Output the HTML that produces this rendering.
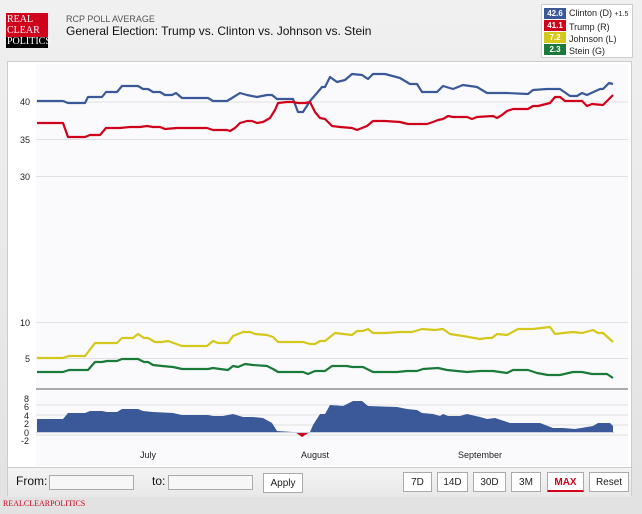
<!DOCTYPE html>
<html><head><meta charset="utf-8"><style>
body{margin:0;width:642px;height:514px;overflow:hidden;background:linear-gradient(#f0f0f0,#e2e2e2);font-family:"Liberation Sans",sans-serif;position:relative}
.a{position:absolute}
.btn{position:absolute;top:472px;height:20px;border:1px solid #aaa;background:#fff;font-size:10px;line-height:20px;text-align:center;box-sizing:border-box;color:#222}
.in{position:absolute;top:475px;height:13px;border:1px solid #aaa;background:#f7f7f7}
</style></head><body>
<div class="a" style="left:6px;top:13px;width:42px;height:35px;background:#000"></div>
<div class="a" style="left:6px;top:13px;width:42px;height:24px;background:#d0021b"></div>
<div class="a" style="left:7px;top:14px;font-family:'Liberation Serif',serif;font-size:10px;line-height:11px;color:#fff">REAL<br>CLEAR<br>POLITICS</div>
<div class="a" style="left:66px;top:14px;font-size:9px;color:#555">RCP POLL AVERAGE</div>
<div class="a" style="left:66px;top:24px;font-size:12px;color:#111">General Election: Trump vs. Clinton vs. Johnson vs. Stein</div>
<div class="a" style="left:541px;top:4px;width:90px;height:52px;border:1px solid #ccc;background:#fff"></div>
<div class="a" style="left:544px;top:8px;width:22px;height:11px;background:#3b5998;color:#fff;font-size:8px;text-align:center;line-height:11px;font-weight:bold">42.6</div>
<div class="a" style="left:544px;top:20px;width:22px;height:11px;background:#d0021b;color:#fff;font-size:8px;text-align:center;line-height:11px;font-weight:bold">41.1</div>
<div class="a" style="left:544px;top:32px;width:22px;height:11px;background:#d4c81a;color:#fff;font-size:8px;text-align:center;line-height:11px;font-weight:bold">7.2</div>
<div class="a" style="left:544px;top:44px;width:22px;height:11px;background:#1a7a3a;color:#fff;font-size:8px;text-align:center;line-height:11px;font-weight:bold">2.3</div>
<div class="a" style="left:569px;top:7px;font-size:9px;line-height:12px;color:#222">Clinton (D) <span style="font-size:7px">+1.5</span><br>Trump (R)<br>Johnson (L)<br>Stein (G)</div>
<div class="a" style="left:7px;top:61px;width:625px;height:435px;border:1px solid #ccc;background:#fff;box-sizing:border-box"></div>
<div class="a" style="left:8px;top:467px;width:623px;height:29px;background:linear-gradient(#f4f4f4,#e8e8e8);border-top:1px solid #ccc"></div>
<svg class="a" style="left:0;top:0" width="642" height="514">
<rect x="36" y="64" width="592" height="402" fill="#fafafd"/>
<g stroke="#e0e0e0" stroke-width="1">
<line x1="36" x2="628" y1="102" y2="102"/><line x1="36" x2="628" y1="139.5" y2="139.5"/><line x1="36" x2="628" y1="176.5" y2="176.5"/>
<line x1="36" x2="628" y1="322.5" y2="322.5"/><line x1="36" x2="628" y1="358.5" y2="358.5"/>
<line x1="36" x2="628" y1="405" y2="405"/><line x1="36" x2="628" y1="415" y2="415"/><line x1="36" x2="628" y1="425" y2="425"/><line x1="36" x2="628" y1="435" y2="435"/>
</g>
<line x1="36" x2="628" y1="389" y2="389" stroke="#aaa" stroke-width="2"/>
<g font-size="9" fill="#222" text-anchor="end">
<text x="30" y="105">40</text><text x="30" y="143">35</text><text x="30" y="180">30</text><text x="30" y="326">10</text><text x="30" y="362">5</text>
<text x="29" y="402">8</text><text x="29" y="410">6</text><text x="29" y="419">4</text><text x="29" y="427">2</text><text x="29" y="436">0</text><text x="29" y="444">-2</text>
</g>
<g font-size="9" fill="#222" text-anchor="middle"><text x="148" y="458">July</text><text x="315" y="458">August</text><text x="480" y="458">September</text></g>
<polygon fill="#d0021b" points="295,432 302,437 310,432"/>
<polygon fill="#3b5998" points="37,432 37,419 63,419 68,413 85,413 90,411 102,411 107,412 117,412 122,409 138,409 143,411 153,412 173,413 182,415 208,415 213,416 223,416 233,414 243,417 253,417 263,418 272,423 277,431 293,432 295,432 310,432 313,425 320,414 325,414 330,405 343,406 353,401 362,401 368,406 397,407 407,409 417,410 422,413 433,414 440,416 443,414 448,416 460,416 467,414 480,417 487,419 495,418 510,423 540,423 553,428 563,428 575,429 587,427 593,426 598,423 607,423 610,423 613,426 613,432"/>
<line x1="36" x2="614" y1="432.5" y2="432.5" stroke="#c8cde0" stroke-width="1"/>
<g fill="none" stroke-width="2.2" stroke-linejoin="round">
<polyline stroke="#3b5998" points="37,101 63,101 68,103 85,103 88,97 102,97 106,92 117,92 122,86 138,86 143,89 148,89 153,92 160,92 165,95 172,95 176,93 182,98 208,98 213,101 227,101 232,98 240,93 247,95 257,97 267,95 272,95 277,99 293,99 298,112 303,112 310,101 317,93 322,87 325,87 330,77 337,82 345,80 352,74 362,75 368,79 373,74 385,74 400,78 410,84 417,84 422,92 437,92 443,86 453,89 463,85 477,87 487,93 507,93 528,94 533,90 547,89 560,89 570,96 577,96 582,93 587,95 600,89 603,89 609,83 613,84"/>
<polyline stroke="#d0021b" points="37,123 63,123 68,137 85,137 90,135 100,135 106,128 120,128 130,127 140,127 147,126 153,127 160,127 165,129 177,128 207,128 213,130 227,130 230,131 235,128 240,123 247,121 252,121 257,123 263,122 270,118 275,110 278,103 287,102 293,102 298,103 305,103 310,102 315,112 320,118 325,119 332,126 340,127 352,128 357,130 367,126 373,121 385,121 400,122 408,124 427,124 433,122 438,120 443,119 448,116 453,117 467,117 472,119 477,117 493,116 497,118 502,115 507,111 513,109 528,109 533,106 538,106 550,103 555,97 560,97 565,101 582,101 587,106 592,104 603,105 613,95"/>
<polyline stroke="#d4c81a" points="37,358 63,358 69,356 85,356 95,343 117,343 122,338 133,338 138,334 144,338 148,338 155,342 162,342 168,341 182,346 207,346 213,341 218,343 228,343 233,336 243,332 250,332 255,334 267,335 273,337 278,342 303,342 310,344 315,344 320,341 325,341 335,333 352,335 357,331 363,331 368,329 373,333 385,333 400,332 412,332 422,329 435,330 443,329 450,334 463,336 480,339 487,338 492,338 497,334 507,335 518,329 533,329 550,327 555,334 563,333 573,332 582,333 593,330 598,333 603,333 613,342"/>
<polyline stroke="#1a7a3a" points="37,372 63,372 69,370 88,370 95,362 102,362 107,361 117,361 122,359 138,359 144,362 148,362 153,365 162,366 173,367 182,369 208,369 213,368 220,369 228,370 233,366 238,367 245,364 253,365 267,366 273,369 278,372 303,372 308,374 315,371 325,371 332,366 347,366 352,367 363,367 373,372 397,372 407,371 417,371 423,369 438,368 447,370 467,372 480,371 493,371 507,373 513,370 528,370 537,373 548,375 560,375 573,372 582,372 592,374 607,374 613,378"/>
</g>
</svg>
<div class="a" style="left:16px;top:474px;font-size:12px;color:#111">From:</div>
<div class="in" style="left:49px;width:83px"></div>
<div class="a" style="left:152px;top:474px;font-size:12px;color:#111">to:</div>
<div class="in" style="left:168px;width:83px"></div>
<div class="btn" style="left:263px;top:473px;width:40px;height:20px">Apply</div>
<div class="btn" style="left:403px;width:29px">7D</div>
<div class="btn" style="left:437px;width:31px">14D</div>
<div class="btn" style="left:473px;width:33px">30D</div>
<div class="btn" style="left:511px;width:30px">3M</div>
<div class="btn" style="left:547px;width:37px;color:#d0021b;font-weight:bold;border-bottom:2px solid #d0021b">MAX</div>
<div class="btn" style="left:589px;width:40px">Reset</div>
<div class="a" style="left:3px;top:499px;font-family:'Liberation Serif',serif;font-size:8px;color:#d0021b">REALCLEARPOLITICS</div>
</body></html>
